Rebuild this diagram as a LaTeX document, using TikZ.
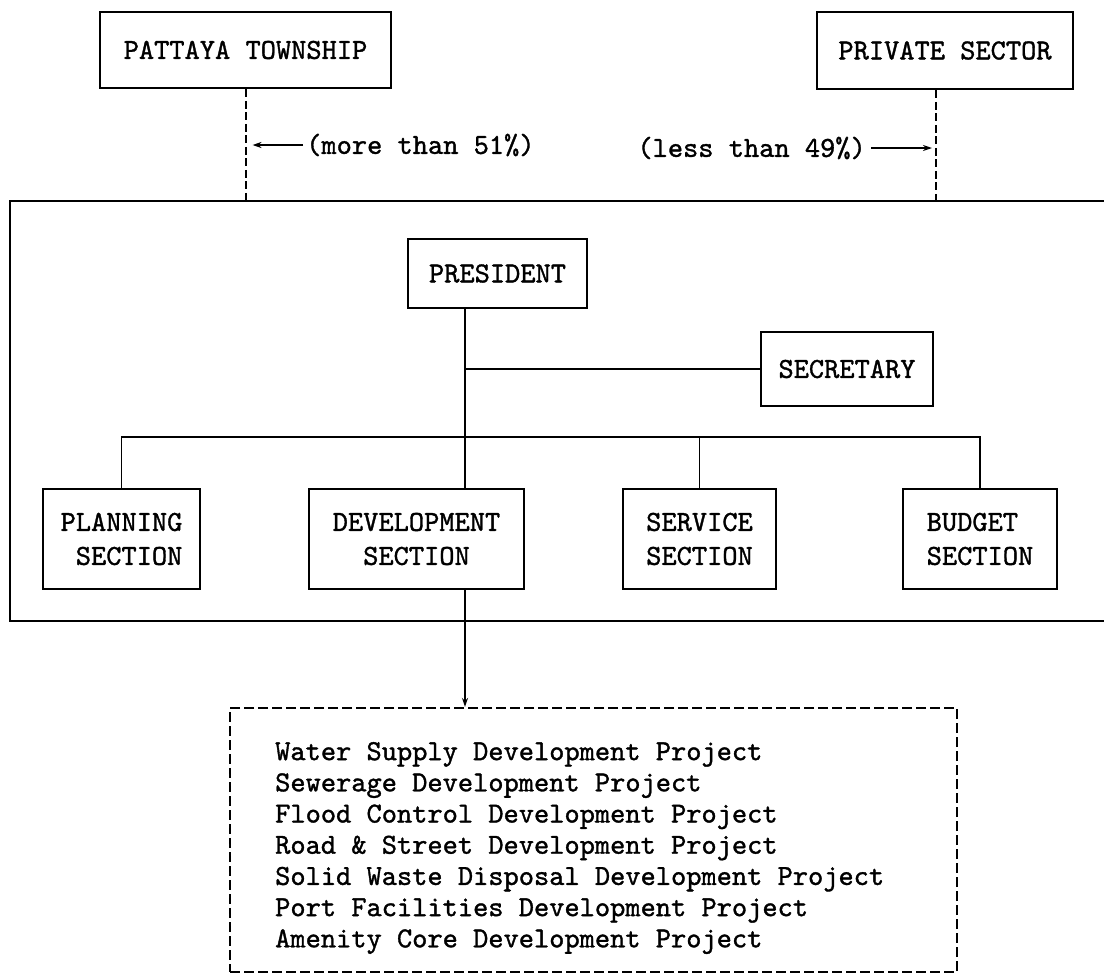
\documentclass[tikz,border=0pt]{standalone}
\usepackage{fontspec}
\usetikzlibrary{arrows.meta,calc}

% a slightly heavier typewriter face, like a ribbon typewriter
\newfontfamily\typer{lmmono10-regular}[Extension=.otf, FakeBold=1.2]
\newcommand\boxfont{\typer\fontsize{29}{34}\selectfont}
\newcommand\listfont{\typer\fontsize{29}{31.2}\selectfont}

\tikzset{
  orgbox/.style={draw, line width=2.6pt, inner sep=0pt, align=center, font=\boxfont},
  frame/.style={draw, line width=2.6pt, inner sep=0pt},
  link/.style={line width=1.8pt},
  share/.style={line width=2pt, dash pattern=on 8pt off 3.5pt},
  dashframe/.style={draw, line width=2.2pt, dash pattern=on 10pt off 4pt, inner sep=0pt},
  pointer/.style={line width=1.6pt, -{Stealth[length=9pt,width=6pt]}},
  note/.style={font=\boxfont, inner sep=0pt},
}

\begin{document}
\begin{tikzpicture}[x=1pt,y=-1pt]
\useasboundingbox (0,0) rectangle (1104,975);
\fill[white] (0,0) rectangle (1104,975);

% shareholders
\node[orgbox, minimum width=291pt, minimum height=76pt] (pattaya) at (245.5,50) {PATTAYA TOWNSHIP};
\node[orgbox, minimum width=256pt, minimum height=77pt] (private) at (945,50.5) {PRIVATE SECTOR};

% the enterprise
\node[frame, minimum width=1096pt, minimum height=420pt] (board) at (558,411) {};

\node[note, anchor=west] (more) at (306,145) {(more than 51\%)};
\node[note, anchor=east] (less) at (866,148) {(less than 49\%)};

\coordinate (pvt) at ([xshift=-9pt]private.south);
\draw[share] (pattaya.south) -- (pattaya.south |- board.north);
\draw[share] (pvt) -- (pvt |- board.north);

\coordinate (m1) at (pattaya.south |- more.west);
\coordinate (m2) at (pvt |- less.east);
\draw[pointer] ([xshift=-3pt]more.west) -- ([xshift=7pt]m1);
\draw[pointer] ([xshift=5pt]less.east) -- ([xshift=-4pt]m2);

% management
\node[orgbox, minimum width=179pt, minimum height=69pt] (president) at (497.5,273.5) {PRESIDENT};
\node[orgbox, minimum width=172pt, minimum height=74pt] (secretary) at (847,369) {SECRETARY};

\node[orgbox, minimum width=157pt, minimum height=100pt, align=right] (planning) at (121.5,539) {PLANNING\\SECTION};
\node[orgbox, minimum width=215pt, minimum height=100pt] (dev) at (416.5,539) {DEVELOPMENT\\SECTION};
\node[orgbox, minimum width=153pt, minimum height=100pt, align=left] (service) at (699.5,539) {SERVICE\\SECTION};
\node[orgbox, minimum width=154pt, minimum height=100pt, align=left] (budget) at (980,539) {BUDGET\\SECTION};

\coordinate (trunk) at (465,0);
\coordinate (branch) at (0,437);
\draw[link] (trunk |- president.south) -- (trunk |- dev.north);
\draw[link] (secretary.west) -- (trunk |- secretary.west);
\draw[link] (planning.north) -- (planning.north |- branch) -- (budget.north |- branch) -- (budget.north);
\draw[link] (service.north) -- (service.north |- branch);

% projects under the development section
\node[dashframe, minimum width=727pt, minimum height=264pt] (projects) at (593.5,840) {};
\node[inner sep=0pt, anchor=west, align=left, font=\listfont] (list) at (275,848) {%
Water Supply Development Project\\
Sewerage Development Project\\
Flood Control Development Project\\
Road \& Street Development Project\\
Solid Waste Disposal Development Project\\
Port Facilities Development Project\\
Amenity Core Development Project};

\draw[pointer] (trunk |- dev.south) -- (trunk |- projects.north);
\end{tikzpicture}
\end{document}
